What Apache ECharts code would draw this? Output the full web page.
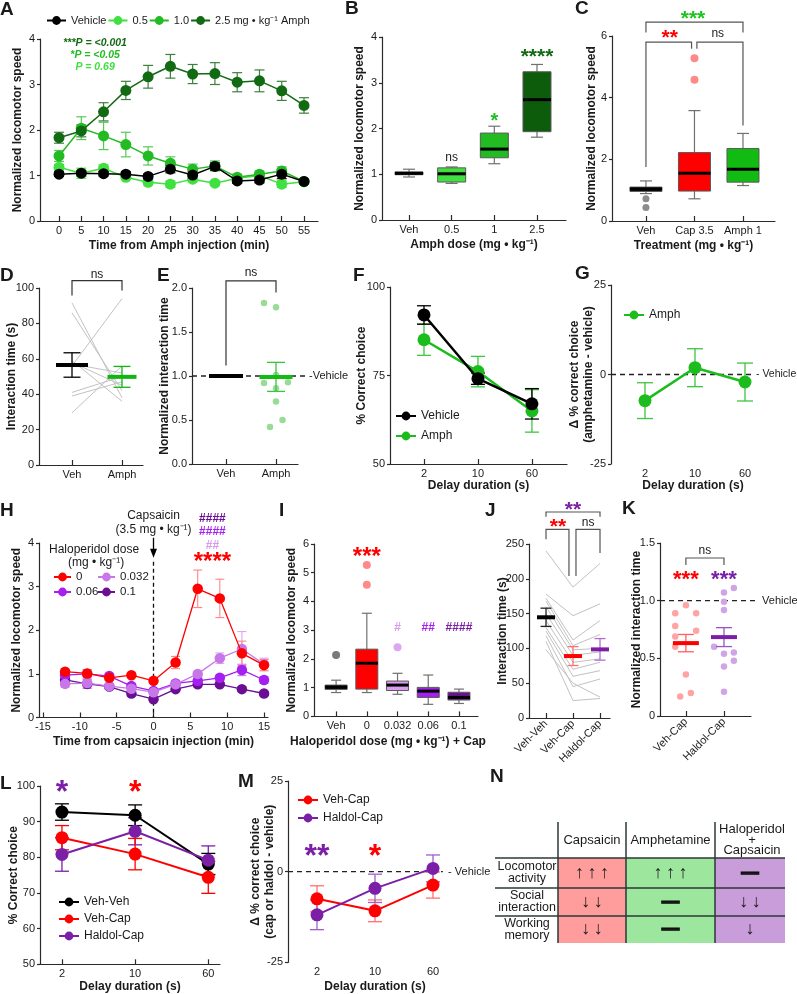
<!DOCTYPE html>
<html><head><meta charset="utf-8"><title>chart</title>
<script src="https://cdn.jsdelivr.net/npm/echarts@6.0.0/dist/echarts.min.js"></script>
<style>html,body{margin:0;padding:0;background:#fff;}#c{width:797px;height:994px;}</style>
</head><body><div id="c"></div>
<script>
// ================= DATA =================
// Panel A
const aTimes=[0,5,10,15,20,25,30,35,40,45,50,55];
const aVehicle=[1.03,1.05,1.04,1.03,0.98,1.14,1.01,1.20,0.88,0.90,1.03,0.87];
const aVehicleErr=[0.05,0.06,0.05,0.05,0.05,0.08,0.07,0.08,0.05,0.06,0.10,0.05];
const aAmph05=[1.18,1.05,1.16,0.96,0.85,0.81,0.92,0.83,0.94,1.00,0.81,0.86];
const aAmph05Err=[0.06,0.11,0.07,0.05,0.06,0.07,0.06,0.05,0.07,0.06,0.07,0.05];
const aAmph10=[1.43,2.04,1.87,1.68,1.43,1.27,1.14,1.21,0.96,1.03,1.10,0.87];
const aAmph10Err=[0.12,0.25,0.30,0.27,0.20,0.14,0.11,0.11,0.07,0.07,0.09,0.05];
const aAmph25=[1.83,1.98,2.40,2.87,3.17,3.40,3.23,3.24,3.05,3.08,2.86,2.54];
const aAmph25Err=[0.12,0.13,0.20,0.20,0.25,0.26,0.21,0.24,0.21,0.24,0.21,0.17];
// Panel B
const bCats=['Veh','0.5','1','2.5'];
const bLow=[0.94,0.80,1.23,1.81];
const bQ1=[0.99,0.83,1.36,1.93];
const bMed=[1.02,1.01,1.55,2.63];
const bQ3=[1.05,1.14,1.90,3.24];
const bHigh=[1.11,1.16,2.05,3.40];
// Panel C
const cCats=['Veh','Cap 3.5','Amph 1'];
const cLow=[0.89,0.72,1.15];
const cQ1=[0.96,0.97,1.26];
const cMed=[1.04,1.55,1.68];
const cQ3=[1.10,2.22,2.35];
const cHigh=[1.30,3.58,2.84];
const cVehOutliers=[0.72,0.44];
const cCapOutliers=[5.28,4.58];
// Panel D
const dCats=['Veh','Amph'];
const dMean=[56.5,49.8];
const dSem=[6.9,5.9];
const dVehSubjects=[91.6,86,59,56,58,57,41,39,29.5];
const dAmphSubjects=[38,42,36,94,45,52,50,47,56];
// Panel E
const eCats=['Veh','Amph'];
const eMean=[1.0,0.99];
const eSem=[0,0.165];
const eAmphPointsX=[0.76,1.0,1.0,0.76,1.24,1.0,1.0,1.13,0.88];
const eAmphPointsY=[1.83,1.78,1.01,0.92,0.93,0.86,0.71,0.50,0.42];
// Panel F
const fCats=['2','10','60'];
const fVehicle=[92.1,74.1,67.0];
const fVehicleErr=[2.6,1.6,4.3];
const fAmph=[85.1,76.1,65.0];
const fAmphErr=[4.4,4.3,6.0];
// Panel G
const gCats=['2','10','60'];
const gAmph=[-7.3,1.9,-2.1];
const gAmphErr=[5.0,5.3,5.3];
// Panel H
const hTimes=[-12,-9,-6,-3,0,3,6,9,12,15];
const hTicks=[-15,-10,-5,0,5,10,15];
const hHal0=[1.05,1.01,0.91,0.97,0.84,1.26,2.95,2.73,1.47,1.20];
const hHal0Err=[0.06,0.08,0.06,0.05,0.05,0.14,0.43,0.44,0.28,0.13];
const hHal032=[0.77,0.79,0.72,0.66,0.58,0.76,1.00,1.36,1.57,1.22];
const hHal032Err=[0.08,0.09,0.06,0.06,0.06,0.05,0.06,0.12,0.40,0.14];
const hHal06=[0.97,1.00,0.95,0.72,0.61,0.78,0.84,0.91,1.09,0.86];
const hHal06Err=[0.06,0.10,0.05,0.06,0.05,0.05,0.06,0.06,0.13,0.08];
const hHal10=[0.86,0.77,0.71,0.55,0.42,0.65,0.76,0.76,0.65,0.55];
const hHal10Err=[0.07,0.10,0.06,0.06,0.05,0.05,0.06,0.05,0.06,0.05];
// Panel I
const iCats=['Veh','0','0.032','0.06','0.1'];
const iLow=[0.83,0.83,0.77,0.42,0.45];
const iQ1=[0.94,0.95,0.90,0.66,0.57];
const iMed=[1.02,1.85,1.09,0.88,0.66];
const iQ3=[1.09,2.34,1.23,1.01,0.84];
const iHigh=[1.26,3.59,1.50,1.44,0.95];
const iVehOutliers=[2.14];
const iCapOutliers=[5.27,4.58];
const iHal032Outliers=[2.41];
// Panel J
const jCats=['Veh-Veh','Veh-Cap','Haldol-Cap'];
const jMean=[144.7,89.0,98.6];
const jSem=[13.1,13.6,15.5];
const jVehVeh=[240,178,172,168,160,150,140,130,125,118,110,98];
const jVehCap=[188,147,112,104,98,90,80,70,60,45,25,50];
const jHaldolCap=[222,164,140,120,100,95,85,80,68,56,28,30];
// Panel K
const kCats=['Veh-Cap','Haldol-Cap'];
const kMean=[0.632,0.684];
const kSem=[0.075,0.082];
const kVehCapX=[0,-0.28,0.27,-0.28,0.27,-0.28,-0.28,0,-0.15,0.13];
const kVehCapY=[0.96,0.89,0.89,0.78,0.74,0.69,0.60,0.36,0.17,0.20];
const kHaldolCapX=[1,1.26,1,1,0.74,1,1.26,1.26,1,1];
const kHaldolCapY=[1.07,1.11,0.99,0.92,0.60,0.54,0.55,0.48,0.43,0.21];
// Panel L
const lCats=['2','10','60'];
const lVehVeh=[92.7,91.8,78.1];
const lVehVehErr=[2.3,2.9,3.0];
const lVehCap=[85.5,80.9,74.4];
const lVehCapErr=[3.4,4.4,4.5];
const lHaldolCap=[80.8,87.3,79.2];
const lHaldolCapErr=[4.7,3.8,4.0];
// Panel M
const mCats=['2','10','60'];
const mVehCap=[-7.5,-10.8,-3.7];
const mVehCapErr=[3.6,3.0,3.6];
const mHaldolCap=[-11.9,-4.6,0.9];
const mHaldolCapErr=[4.1,3.9,3.7];
// Panel N
const nCols=['Capsaicin','Amphetamine','Haloperidol\n+\nCapsaicin'];
const nRows=['Locomotor\nactivity','Social\ninteraction','Working\nmemory'];
const nCells=[['↑↑↑','↑↑↑','—'],['↓↓','—','↓↓'],['↓↓','—','↓']];

// ================= STYLE =================
const FONT="'Liberation Sans', Arial, Helvetica, sans-serif";
const AX='#2a2a2a', TXT='#1a1a1a';
const BLACK='#000000', G05='#3fe03f', G10='#22bb22', G25='#126a12', GREEN='#1cbc1c';
const RED='#ff0000', LRED='#ff8a8a', P032='#c777e8', P06='#a51ff0', P10='#6a0f93', HAL='#7b1fa6', LGRAY='#c2c2c2';

const grid=[], xAxis=[], yAxis=[], series=[], legend=[], graphic=[];
const idx=a=>a.map((_,i)=>i);

function panel(o){
  const gi=grid.length; o.gi=gi;
  grid.push({left:o.x0, top:o.yT, width:o.x1-o.x0, height:o.yB-o.yT, containLabel:false, outerBoundsMode:'none'});
  xAxis.push({gridIndex:gi, type:'value', min:o.xmin, max:o.xmax,
    axisLine:{show:o.xline!==false, onZero:false, lineStyle:{color:AX,width:1.2}},
    axisTick:{show:o.xtick!==false, inside:true, length:5, customValues:o.xv, lineStyle:{color:AX,width:1.2}},
    axisLabel:{show:true, customValues:o.xv, formatter:o.xf||(v=>String(v)), color:TXT, fontSize:11, fontFamily:FONT, margin:o.xm||4, rotate:o.xrot||0},
    splitLine:{show:false},
    name:o.xname||'', nameLocation:'middle', nameGap:o.xgap||18, nameMoveOverlap:false,
    nameTextStyle:{fontWeight:'bold', fontSize:12, color:TXT, fontFamily:FONT, padding:o.xnpad||0}});
  yAxis.push({gridIndex:gi, type:'value', min:o.ymin, max:o.ymax, interval:o.yint,
    axisLine:{show:true, onZero:false, lineStyle:{color:AX,width:1.2}},
    axisTick:{show:true, inside:false, length:3, lineStyle:{color:AX,width:1.2}},
    axisLabel:{color:TXT, fontSize:11, fontFamily:FONT, margin:5, formatter:o.yf||(v=>String(v))},
    splitLine:{show:false},
    name:o.yname||'', nameLocation:'middle', nameGap:o.ygap||16, nameMoveOverlap:false,
    nameTextStyle:{fontWeight:'bold', fontSize:12, color:TXT, fontFamily:FONT, lineHeight:14}});
  return o;
}
const catF=c=>(v=>c[Math.round(v)]);
const fix1=v=>v===0?'0':v.toFixed(1);

function errBars(P, xs, m, e, color, cap, lw, z){
  series.push({type:'custom', xAxisIndex:P.gi, yAxisIndex:P.gi, silent:true, clip:false, z:z||2,
    data: xs.map((x,i)=>[x, m[i]-e[i], m[i]+e[i]]), encode:{x:0,y:[1,2]},
    renderItem:(params,api)=>{
      const a=api.coord([api.value(0),api.value(1)]), b=api.coord([api.value(0),api.value(2)]);
      const st={stroke:color, lineWidth:lw||1.2};
      return {type:'group', children:[
        {type:'line', shape:{x1:a[0],y1:a[1],x2:b[0],y2:b[1]}, style:st},
        {type:'line', shape:{x1:a[0]-cap/2,y1:a[1],x2:a[0]+cap/2,y2:a[1]}, style:st},
        {type:'line', shape:{x1:b[0]-cap/2,y1:b[1],x2:b[0]+cap/2,y2:b[1]}, style:st}]};
    }});
}
function lineS(P, name, xs, ys, color, size, lw, z){
  series.push({type:'line', name, xAxisIndex:P.gi, yAxisIndex:P.gi, z:z||3, silent:true,
    data: xs.map((x,i)=>[x,ys[i]]), symbol:'circle', symbolSize:size, showSymbol:true, showAllSymbol:true,
    itemStyle:{color, borderWidth:0}, lineStyle:{color, width:lw}, emphasis:{disabled:true}});
}
function boxS(P, xs, lo, q1, med, q3, hi, fills, bw, cw){
  series.push({type:'custom', xAxisIndex:P.gi, yAxisIndex:P.gi, silent:true, clip:false, z:3,
    data: xs.map((x,i)=>[x,lo[i],q1[i],med[i],q3[i],hi[i]]), encode:{x:0,y:[1,5]},
    renderItem:(params,api)=>{
      const i=params.dataIndex, x=api.value(0), C=v=>api.coord([x,v]);
      const pl=C(api.value(1)), p1=C(api.value(2)), pm=C(api.value(3)), p3=C(api.value(4)), ph=C(api.value(5));
      const cx=pl[0], w={stroke:'#707070', lineWidth:1.2};
      return {type:'group', children:[
        {type:'line', shape:{x1:cx,y1:pl[1],x2:cx,y2:p1[1]}, style:w},
        {type:'line', shape:{x1:cx,y1:p3[1],x2:cx,y2:ph[1]}, style:w},
        {type:'line', shape:{x1:cx-cw/2,y1:pl[1],x2:cx+cw/2,y2:pl[1]}, style:w},
        {type:'line', shape:{x1:cx-cw/2,y1:ph[1],x2:cx+cw/2,y2:ph[1]}, style:w},
        {type:'rect', shape:{x:cx-bw/2,y:p3[1],width:bw,height:p1[1]-p3[1]}, style:{fill:fills[i], stroke:'#5a5a5a', lineWidth:1}},
        {type:'line', shape:{x1:cx-bw/2,y1:pm[1],x2:cx+bw/2,y2:pm[1]}, style:{stroke:'#000', lineWidth:3}}]};
    }});
}
function scatterS(P, xs, ys, color, size, z){
  series.push({type:'scatter', xAxisIndex:P.gi, yAxisIndex:P.gi, silent:true, z:z||2,
    data: xs.map((x,i)=>[x,ys[i]]), symbol:'circle', symbolSize:size, itemStyle:{color, opacity:1}, emphasis:{disabled:true}});
}
function meanS(P, xs, m, s, colors, errColors, bw, cap, thick, z){
  series.push({type:'custom', xAxisIndex:P.gi, yAxisIndex:P.gi, silent:true, clip:false, z:z||4,
    data: xs.map((x,i)=>[x,m[i],s[i]]), encode:{x:0,y:1},
    renderItem:(params,api)=>{
      const i=params.dataIndex, x=api.value(0), mv=api.value(1), sv=api.value(2);
      const p=api.coord([x,mv]), lo=api.coord([x,mv-sv]), hi=api.coord([x,mv+sv]);
      const ch=[];
      const w=bw[i];
      if(sv>0){
        const st={stroke:errColors[i], lineWidth:1.3};
        ch.push({type:'line', shape:{x1:p[0],y1:lo[1],x2:p[0],y2:hi[1]}, style:st});
        ch.push({type:'line', shape:{x1:p[0]-cap/2,y1:lo[1],x2:p[0]+cap/2,y2:lo[1]}, style:st});
        ch.push({type:'line', shape:{x1:p[0]-cap/2,y1:hi[1],x2:p[0]+cap/2,y2:hi[1]}, style:st});
      }
      ch.push({type:'rect', shape:{x:p[0]-w/2,y:p[1]-thick/2,width:w,height:thick}, style:{fill:colors[i]}});
      return {type:'group', children:ch};
    }});
}
function pairedS(P, cols, color){
  series.push({type:'custom', xAxisIndex:P.gi, yAxisIndex:P.gi, silent:true, clip:false, z:1,
    data: idx(cols[0]).map(i=>cols.map(c=>c[i])),
    renderItem:(params,api)=>{
      const pts=cols.map((c,j)=>api.coord([j, api.value(j)]));
      return {type:'polyline', shape:{points:pts}, style:{stroke:color, lineWidth:1, fill:null}};
    }});
}
function annot(P, items, z){
  series.push({type:'custom', xAxisIndex:P.gi, yAxisIndex:P.gi, silent:true, clip:false, z:z||10,
    data:[[P.xmin,P.ymin]], encode:{x:0,y:1},
    renderItem:(params,api)=>{
      const ch=[];
      for(const it of items){
        if(it.t==='text'||it.t==='ast'){
          const p=api.coord([it.x,it.y]);
          const ast=it.t==='ast';
          const fs=it.fs||(ast?20:12);
          ch.push({type:'text', x:p[0], y:p[1]+(ast?fs*0.2:0)+(it.dy||0), style:{text:it.s, fill:it.c||TXT,
            fontSize:fs, fontWeight:ast?'bold':(it.fw||'normal'), fontStyle:it.fst||'normal', fontFamily:FONT,
            align:it.al||'center', verticalAlign:'middle'}});
        } else if(it.t==='line'){
          ch.push({type:'polyline', shape:{points:it.p.map(q=>api.coord(q))}, style:{stroke:it.c||'#444', lineWidth:it.w||1.2, fill:null, lineDash:it.dash||null}});
        } else if(it.t==='arrow'){
          const a=api.coord(it.from), b=api.coord(it.to);
          ch.push({type:'line', shape:{x1:a[0],y1:a[1],x2:b[0],y2:b[1]-6}, style:{stroke:'#000', lineWidth:1.3}});
          ch.push({type:'polygon', shape:{points:[[b[0],b[1]],[b[0]-3.5,b[1]-9],[b[0]+3.5,b[1]-9]]}, style:{fill:'#000'}});
        }
      }
      return {type:'group', children:ch};
    }});
}
function leg(names, left, top, orient, gap, fs, iw){
  legend.push({data:names, left, top, orient:orient||'horizontal', itemGap:gap||4, itemWidth:iw||20, itemHeight:11,
    selectedMode:false, padding:0, textStyle:{fontSize:fs||11.5, color:TXT, fontFamily:FONT}});
}

// ================= PANELS =================
const A=panel({x0:40,x1:318,yT:39,yB:221,xmin:-4.27,xmax:58.14,xv:aTimes,ymin:0,ymax:4,yint:1,
  xname:'Time from Amph injection (min)',xgap:19,yname:'Normalized locomotor speed',ygap:15});
errBars(A,aTimes,aAmph05,aAmph05Err,G05,10,1.2);
errBars(A,aTimes,aAmph10,aAmph10Err,'#55c955',10,1.2);
errBars(A,aTimes,aVehicle,aVehicleErr,BLACK,10,1.2);
errBars(A,aTimes,aAmph25,aAmph25Err,'#3d803d',10,1.2);
lineS(A,'0.5',aTimes,aAmph05,G05,11,1.5,3);
lineS(A,'1.0',aTimes,aAmph10,G10,11,1.5,3);
lineS(A,'Vehicle',aTimes,aVehicle,BLACK,11,1.5,4);
lineS(A,'2.5 mg • kg⁻¹ Amph',aTimes,aAmph25,G25,11,1.5,5);
leg(['Vehicle','0.5','1.0','2.5 mg • kg⁻¹ Amph'],46,15,'horizontal',1,11,19);
annot(A,[
  {t:'text',x:8.1,y:3.905,s:'***P = <0.001',c:G25,fs:10.5,fw:'bold',fst:'italic'},
  {t:'text',x:8.1,y:3.65,s:'*P = <0.05',c:G10,fs:10.5,fw:'bold',fst:'italic'},
  {t:'text',x:8.1,y:3.39,s:'P = 0.69',c:G05,fs:10.5,fw:'bold',fst:'italic'}]);

const B=panel({x0:382,x1:566,yT:37,yB:220,xmin:-0.633,xmax:3.68,xv:idx(bCats),xf:catF(bCats),ymin:0,ymax:4,yint:1,
  xname:'Amph dose (mg • kg⁻¹)',xgap:19,yname:'Normalized locomotor speed',ygap:15});
boxS(B,idx(bCats),bLow,bQ1,bMed,bQ3,bHigh,['#111111',G05,G10,'#0c5c0c'],28,12);
annot(B,[
  {t:'text',x:1,y:1.37,s:'ns',fs:12},
  {t:'ast',x:2,y:2.25,s:'*',c:G10,fs:20},
  {t:'ast',x:3,y:3.64,s:'****',c:G25,fs:21}]);

const Cp=panel({x0:612,x1:775,yT:36,yB:221,xmin:-0.70,xmax:2.66,xv:idx(cCats),xf:catF(cCats),ymin:0,ymax:6,yint:2,
  xname:'Treatment (mg • kg⁻¹)',xgap:19,yname:'Normalized locomotor speed',ygap:13});
boxS(Cp,idx(cCats),cLow,cQ1,cMed,cQ3,cHigh,['#111111',RED,'#11bb11'],32,12);
scatterS(Cp,cVehOutliers.map(()=>0),cVehOutliers,'#8c8c8c',7,4);
scatterS(Cp,cCapOutliers.map(()=>1),cCapOutliers,LRED,8,4);
annot(Cp,[
  {t:'line',p:[[0,1.75],[0,5.8],[0.94,5.8],[0.94,5.59]],c:'#555'},
  {t:'line',p:[[1.05,5.59],[1.05,5.8],[2,5.8],[2,3.1]],c:'#555'},
  {t:'line',p:[[0,6.11],[0,6.45],[2,6.45],[2,6.11]],c:'#555'},
  {t:'ast',x:0.49,y:6.07,s:'**',c:RED,fs:21},
  {t:'text',x:1.48,y:6.07,s:'ns',fs:12},
  {t:'ast',x:0.97,y:6.67,s:'***',c:'#1ec41e',fs:21}]);

const D=panel({x0:39,x1:143,yT:288,yB:465,xmin:-0.66,xmax:1.42,xv:idx(dCats),xf:catF(dCats),ymin:0,ymax:100,yint:20,
  yname:'Interaction time (s)',ygap:20});
pairedS(D,[dVehSubjects,dAmphSubjects],LGRAY);
meanS(D,idx(dCats),dMean,dSem,[BLACK,'#11b511'],[BLACK,'#11b511'],[32,29],17,4);
annot(D,[{t:'line',p:[[0,95.7],[0,104.2],[1,104.2],[1,98.6]],c:'#333'},{t:'text',x:0.5,y:107.7,s:'ns',fs:12}]);

const E=panel({x0:192,x1:298,yT:288,yB:464,xmin:-0.68,xmax:1.44,xv:idx(eCats),xf:catF(eCats),ymin:0,ymax:2,yint:0.5,
  yf:v=>v.toFixed(1),yname:'Normalized interaction time',ygap:20});
annot(E,[{t:'line',p:[[-0.68,1],[1.62,1]],c:'#222',w:1.3,dash:[5,4]},{t:'text',x:1.66,y:1,s:'-Vehicle',al:'left',fs:11}],1);
scatterS(E,eAmphPointsX,eAmphPointsY,'#98dc98',6.5,2);
meanS(E,idx(eCats),eMean,eSem,[BLACK,'#11bb11'],[BLACK,'#3cc43c'],[34,33],18,4);
annot(E,[{t:'line',p:[[0,1.12],[0,2.08],[1,2.08],[1,1.95]],c:'#333'},{t:'text',x:0.5,y:2.17,s:'ns',fs:12}]);

const F=panel({x0:390,x1:567,yT:287,yB:464,xmin:-0.63,xmax:2.65,xv:idx(fCats),xf:catF(fCats),ymin:50,ymax:100,yint:25,
  xname:'Delay duration (s)',xgap:16,yname:'% Correct choice',ygap:21});
errBars(F,idx(fCats),fAmph,fAmphErr,'#3fc43f',14,1.3);
errBars(F,idx(fCats),fVehicle,fVehicleErr,BLACK,14,1.3);
lineS(F,'Amph',idx(fCats),fAmph,GREEN,13,2.5,3);
lineS(F,'Vehicle',idx(fCats),fVehicle,BLACK,13,2.5,4);
leg(['Vehicle','Amph'],395,410,'vertical',8,12);

const G=panel({x0:611,x1:775,yT:285,yB:464,xmin:-0.68,xmax:2.6,xv:idx(gCats),xf:catF(gCats),xline:false,xtick:false,ymin:-25,ymax:25,yint:25,
  xname:'Delay duration (s)',xgap:16,yname:'Δ % correct choice\n(amphetamine - vehicle)',ygap:15});
annot(G,[{t:'line',p:[[-0.68,0],[2.18,0]],c:'#222',w:1.3,dash:[5,4]},{t:'text',x:2.22,y:0,s:'- Vehicle',al:'left',fs:10.5}],1);
errBars(G,idx(gCats),gAmph,gAmphErr,'#3fc43f',16,1.3);
lineS(G,'Amph',idx(gCats),gAmph,GREEN,13,2.5,3);
leg(['Amph'],623,309,'vertical',8,12);

const H=panel({x0:39,x1:268,yT:543,yB:717.5,xmin:-15.54,xmax:15.54,xv:hTicks,ymin:0,ymax:4,yint:1,
  xname:'Time from capsaicin injection (min)',xgap:18,yname:'Normalized locomotor speed',ygap:15});
annot(H,[{t:'line',p:[[0,3.57],[0,0]],c:'#111',w:1.3,dash:[4,3]},{t:'arrow',from:[0,4.12],to:[0,3.66]}],1);
errBars(H,hTimes,hHal10,hHal10Err,'#9a62b8',9,1.1);
errBars(H,hTimes,hHal06,hHal06Err,'#c577f3',9,1.1);
errBars(H,hTimes,hHal032,hHal032Err,'#dba7f0',9,1.1);
errBars(H,hTimes,hHal0,hHal0Err,'#ff8585',9,1.1);
lineS(H,'0.1',hTimes,hHal10,P10,10.5,1.3,3);
lineS(H,'0.06',hTimes,hHal06,P06,10.5,1.3,3);
lineS(H,'0.032',hTimes,hHal032,P032,10.5,1.3,4);
lineS(H,'0',hTimes,hHal0,RED,10.5,1.3,5);
leg(['0'],53,571,'horizontal',4,11.5,17);
leg(['0.032'],97,571,'horizontal',4,11.5,17);
leg(['0.06'],53,586,'horizontal',4,11.5,17);
leg(['0.1'],97,586,'horizontal',4,11.5,17);
annot(H,[
  {t:'text',x:0,y:4.62,s:'Capsaicin',fs:12},
  {t:'text',x:0,y:4.30,s:'(3.5 mg • kg⁻¹)',fs:12},
  {t:'text',x:-8.07,y:3.84,s:'Haloperidol dose',fs:12},
  {t:'text',x:-7.8,y:3.54,s:'(mg • kg⁻¹)',fs:12},
  {t:'text',x:8,y:4.55,s:'####',c:P10,fs:12,fw:'bold'},
  {t:'text',x:8,y:4.25,s:'####',c:P06,fs:12,fw:'bold'},
  {t:'text',x:8,y:3.93,s:'##',c:'#d89aef',fs:12,fw:'bold'},
  {t:'ast',x:8,y:3.66,s:'****',c:RED,fs:24}]);

const I=panel({x0:314,x1:478,yT:544,yB:716.4,xmin:-0.72,xmax:4.62,xv:idx(iCats),xf:catF(iCats),ymin:0,ymax:6,yint:1,
  xname:'Haloperidol dose (mg • kg⁻¹) + Cap',xgap:19,xnpad:[0,16,0,0],yname:'Normalized locomotor speed',ygap:15});
boxS(I,idx(iCats),iLow,iQ1,iMed,iQ3,iHigh,['#111111',RED,'#dc9cf2','#a51ff0','#6b1294'],22,10);
scatterS(I,iVehOutliers.map(()=>0),iVehOutliers,'#7a7a7a',8,4);
scatterS(I,iCapOutliers.map(()=>1),iCapOutliers,LRED,8,4);
scatterS(I,iHal032Outliers.map(()=>2),iHal032Outliers,'#dda6f0',8,4);
annot(I,[
  {t:'ast',x:1,y:5.7,s:'***',c:RED,fs:24},
  {t:'text',x:2,y:3.08,s:'#',c:'#d89aef',fs:12,fw:'bold'},
  {t:'text',x:3,y:3.08,s:'##',c:P06,fs:12,fw:'bold'},
  {t:'text',x:4,y:3.08,s:'####',c:HAL,fs:12,fw:'bold'}]);

const J=panel({x0:529,x1:610,yT:544,yB:718,xmin:-0.63,xmax:2.37,xv:idx(jCats),xf:catF(jCats),xrot:45,ymin:0,ymax:250,yint:50,
  yname:'Interaction time (s)',ygap:19});
pairedS(J,[jVehVeh,jVehCap,jHaldolCap],LGRAY);
meanS(J,idx(jCats),jMean,jSem,[BLACK,RED,HAL],['#222','#ff7070','#b070d0'],[18,18,18],11,4);
annot(J,[
  {t:'line',p:[[0,257],[0,271],[0.85,271],[0.85,204]],c:'#555'},
  {t:'line',p:[[1.11,204],[1.11,271],[2,271],[2,237]],c:'#555'},
  {t:'line',p:[[0,289],[0,296],[2,296],[2,289]],c:'#555'},
  {t:'ast',x:0.44,y:280,s:'**',c:RED,fs:21},
  {t:'text',x:1.56,y:280,s:'ns',fs:12},
  {t:'ast',x:1,y:304,s:'**',c:HAL,fs:21}]);

const K=panel({x0:660,x1:751,yT:543,yB:716,xmin:-0.68,xmax:1.71,xv:idx(kCats),xf:catF(kCats),xrot:45,ymin:0,ymax:1.5,yint:0.5,
  yf:fix1,yname:'Normalized interaction time',ygap:16});
annot(K,[{t:'line',p:[[-0.68,1],[1.87,1]],c:'#222',w:1.3,dash:[5,4]},{t:'text',x:2.0,y:1,s:'Vehicle',al:'left',fs:11}],1);
scatterS(K,kVehCapX,kVehCapY,'#ffa3a3',6.5,2);
scatterS(K,kHaldolCapX,kHaldolCapY,'#cfa5e6',6.5,2);
meanS(K,idx(kCats),kMean,kSem,[RED,HAL],['#ff6060','#9a55c0'],[26,26],16,4);
annot(K,[
  {t:'line',p:[[0,1.31],[0,1.37],[1,1.37],[1,1.31]],c:'#555'},
  {t:'text',x:0.5,y:1.43,s:'ns',fs:12},
  {t:'ast',x:0,y:1.215,s:'***',c:RED,fs:22},
  {t:'ast',x:1,y:1.215,s:'***',c:HAL,fs:22}]);

const L=panel({x0:40,x1:220,yT:786,yB:964.3,xmin:-0.3,xmax:2.16,xv:idx(lCats),xf:catF(lCats),ymin:50,ymax:100,yint:10,
  xname:'Delay duration (s)',xgap:16,yname:'% Correct choice',ygap:19});
errBars(L,idx(lCats),lHaldolCap,lHaldolCapErr,HAL,14,1.3);
errBars(L,idx(lCats),lVehCap,lVehCapErr,RED,14,1.3);
errBars(L,idx(lCats),lVehVeh,lVehVehErr,BLACK,14,1.3);
lineS(L,'Veh-Cap',idx(lCats),lVehCap,RED,13,2,3);
lineS(L,'Veh-Veh',idx(lCats),lVehVeh,BLACK,13,2,4);
lineS(L,'Haldol-Cap',idx(lCats),lHaldolCap,HAL,13,2,5);
leg(['Veh-Veh','Veh-Cap','Haldol-Cap'],58,896,'vertical',5,12);
annot(L,[{t:'ast',x:0,y:99.7,s:'*',c:HAL,fs:32},{t:'ast',x:1,y:99.7,s:'*',c:RED,fs:32}]);

const M=panel({x0:288,x1:462,yT:781,yB:962.3,xmin:-0.5,xmax:2.5,xv:idx(mCats),xf:catF(mCats),xline:false,xtick:false,ymin:-25,ymax:25,yint:25,
  xname:'Delay duration (s)',xgap:18,yname:'Δ % correct choice\n(cap or haldol - vehicle)',ygap:11});
annot(M,[{t:'line',p:[[-0.5,0],[2.17,0]],c:'#222',w:1.3,dash:[5,4]},{t:'text',x:2.26,y:0,s:'- Vehicle',al:'left',fs:11}],1);
errBars(M,idx(mCats),mVehCap,mVehCapErr,'#ff7070',14,1.3);
errBars(M,idx(mCats),mHaldolCap,mHaldolCapErr,'#a060c8',14,1.3);
lineS(M,'Veh-Cap',idx(mCats),mVehCap,RED,13,2,3);
lineS(M,'Haldol-Cap',idx(mCats),mHaldolCap,HAL,13,2,4);
leg(['Veh-Cap','Haldol-Cap'],297,794,'vertical',6,12);
annot(M,[{t:'ast',x:0,y:5.8,s:'**',c:HAL,fs:32},{t:'ast',x:1,y:5.8,s:'*',c:RED,fs:32}]);

// ================= PANEL LETTERS =================
function gtext(x,y,s,o){
  o=o||{};
  graphic.push({type:'text', x, y, silent:true, z:50, style:{text:s, fill:o.c||TXT, fontSize:o.fs||19, fontWeight:o.fw||'bold',
    fontFamily:FONT, align:o.al||'left', textAlign:o.al||'left', verticalAlign:'middle', textVerticalAlign:'middle', lineHeight:o.lh, stroke:o.stroke, lineWidth:o.lw||0}});
}
[['A',0,10],['B',345,9],['C',575,9],['D',0,276],['E',157,276],['F',353,276],['G',575,274],
 ['H',0,511],['I',279,511],['J',485,511],['K',622,509],['L',0,784],['M',238,782],['N',490,777]]
 .forEach(l=>gtext(l[1],l[2],l[0]));

// ================= TABLE N =================
const tX=[558,626,715,785], tY=[858,888,916,943], tHead=822, tLeft=495;
const tFill=['#ff9c9c','#9de69d','#c99cda'];
for(let c=0;c<3;c++){
  graphic.push({type:'rect', silent:true, z:1, shape:{x:tX[c],y:tY[0],width:tX[c+1]-tX[c],height:tY[3]-tY[0]}, style:{fill:tFill[c]}});
}
for(let r=0;r<3;r++){
  graphic.push({type:'line', silent:true, z:3, shape:{x1:tLeft,y1:tY[r],x2:tX[3],y2:tY[r]}, style:{stroke:'#2b3838',lineWidth:1.5}});
}
for(let c=0;c<3;c++){
  graphic.push({type:'line', silent:true, z:3, shape:{x1:tX[c],y1:tHead,x2:tX[c],y2:tY[3]}, style:{stroke:'#2b3838',lineWidth:1.5}});
}
nCols.forEach((s,c)=>gtext((tX[c]+tX[c+1])/2+(c===2?2:0),(tHead+tY[0])/2,s,{fs:13,fw:'normal',al:'center',lh:10.5}));
nRows.forEach((s,r)=>gtext(527,(tY[r]+tY[r+1])/2,s,{fs:12.5,fw:'normal',al:'center',lh:12}));
nCells.forEach((row,r)=>row.forEach((s,c)=>{
  const dash=s==='—';
  const txt=dash?s:s.split('').join('\u2009');
  gtext((tX[c]+tX[c+1])/2,(tY[r]+tY[r+1])/2,txt,{fs:dash?17:18,fw:dash?'bold':'normal',al:'center',stroke:dash?'#000':null,lw:dash?1.6:0});
}));

// ================= CHART =================
const chart=echarts.init(document.getElementById('c'),null,{width:797,height:994,renderer:'canvas'});
chart.setOption({animation:false, backgroundColor:'#ffffff', textStyle:{fontFamily:FONT},
  grid, xAxis, yAxis, series, legend, graphic});
</script></body></html>
